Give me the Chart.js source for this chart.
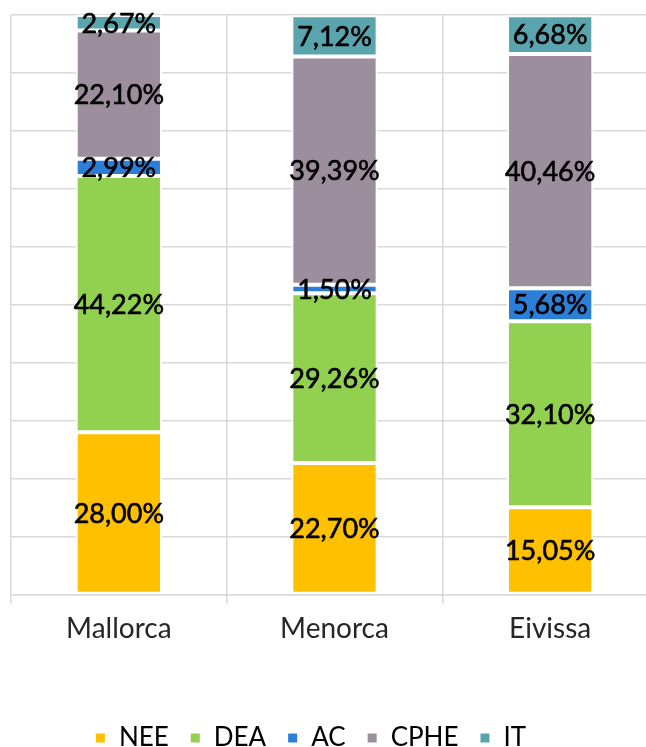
<!DOCTYPE html>
<html>
<head>
<meta charset="utf-8">
<script src="https://cdn.jsdelivr.net/npm/chart.js@4"></script>
<style>
    html, body { margin: 0; padding: 0; overflow: hidden; background: #fff; }
    #wrap { width: 660px; height: 747px; }
</style>
</head>
<body>
<div id="wrap"><canvas id="barChart" width="660" height="747"></canvas></div>
<script>
const islands = ['Mallorca', 'Menorca', 'Eivissa'];

const seriesNames = ['NEE', 'DEA', 'AC', 'CPHE', 'IT'];
const nee = [28.00, 22.70, 15.05];
const dea = [44.22, 29.26, 32.10];
const ac = [2.99, 1.50, 5.68];
const cphe = [22.10, 39.39, 40.46];
const it = [2.67, 7.12, 6.68];

const colors = ['#FFC000', '#92D050', '#2B7FD8', '#9D8E9E', '#5AA4AE'];

const values = [nee, dea, ac, cphe, it];

// Percent labels in the middle of each segment
const segmentLabels = {
    id: 'segmentLabels',
    afterDatasetsDraw(chart) {
        const ctx = chart.ctx;
        ctx.save();
        ctx.font = '27px Lato';
        ctx.fillStyle = '#000';
        ctx.strokeStyle = '#000';
        ctx.lineWidth = 0.6;
        ctx.textAlign = 'center';
        ctx.textBaseline = 'middle';
        chart.data.datasets.forEach((ds, i) => {
            const meta = chart.getDatasetMeta(i);
            meta.data.forEach((bar, j) => {
                const p = bar.getProps(['x', 'y', 'base'], true);
                const txt = ds.data[j].toFixed(2).replace('.', ',') + '%';
                const y = (p.y + p.base) / 2 + 1;
                ctx.fillText(txt, p.x, y);
                ctx.strokeText(txt, p.x, y);
            });
        });
        ctx.restore();
    }
};

// Move the legend to where it sits in the picture
const legendPlace = {
    id: 'legendPlace',
    afterLayout(chart) {
        const l = chart.legend;
        const h = l.bottom - l.top;
        l.top = 704;
        l.bottom = l.top + h;
        l.left -= 24;
        l.right -= 24;
    }
};

const barCtx = document.getElementById('barChart').getContext('2d');
new Chart(barCtx, {
    type: 'bar',
    data: {
        labels: islands,
        datasets: seriesNames.map((name, i) => ({
            label: name,
            data: values[i],
            backgroundColor: colors[i],
            borderColor: '#fff',
            borderWidth: 2,
            borderSkipped: false,
            barPercentage: 0.8,
            categoryPercentage: 0.5
        }))
    },
    options: {
        responsive: false,
        animation: false,
        layout: { padding: { top: 15, left: 11, right: 2, bottom: 35 } },
        scales: {
            x: {
                stacked: true,
                grid: { offset: true, color: '#d9d9d9', lineWidth: 1.5, tickLength: 9 },
                border: { color: '#d9d9d9', width: 1.5 },
                ticks: { color: '#262626', font: { family: 'Lato', size: 28 }, padding: 9 }
            },
            y: {
                stacked: true,
                min: 0,
                max: 100,
                ticks: { display: false, stepSize: 10 },
                grid: { color: '#d9d9d9', lineWidth: 1.5, drawTicks: false },
                border: { display: false }
            }
        },
        plugins: {
            legend: {
                position: 'bottom',
                labels: {
                    boxWidth: 11,
                    boxHeight: 11,
                    padding: 21,
                    color: '#000',
                    font: { family: 'Lato', size: 26 }
                }
            },
            tooltip: { enabled: false }
        }
    },
    plugins: [segmentLabels, legendPlace]
});
</script>
</body>
</html>
